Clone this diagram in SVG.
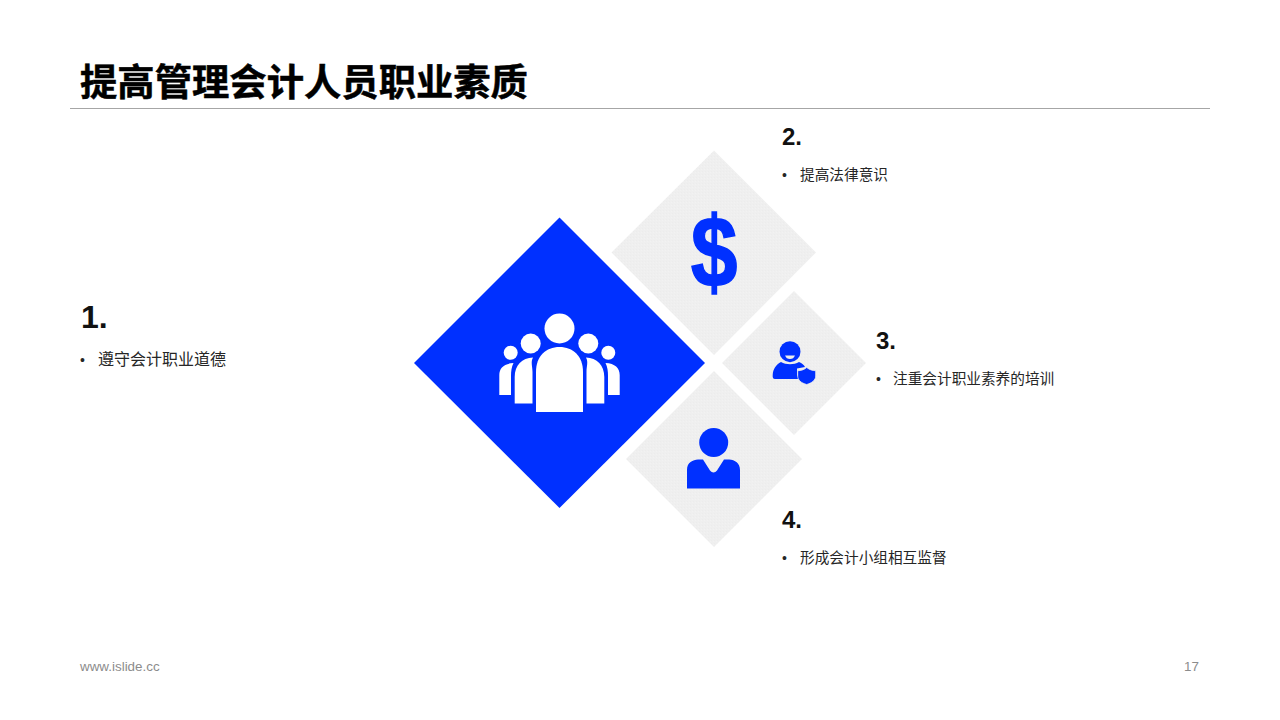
<svg xmlns="http://www.w3.org/2000/svg" width="1280" height="720" viewBox="0 0 1280 720">
<defs>
<pattern id="tex" width="3" height="3" patternUnits="userSpaceOnUse">
<rect width="3" height="3" fill="#efefef"/>
<rect width="1" height="1" fill="#ececec"/>
<rect x="2" y="1" width="1" height="1" fill="#f2f2f2"/>
</pattern>
</defs>
<style>
.title{font-family:"Noto Sans CJK SC","Liberation Sans",sans-serif;font-weight:700;font-size:37.33px;fill:#000;stroke:#000;stroke-width:.5px}
.num{font-family:"Liberation Sans",sans-serif;font-weight:700;font-size:24px;fill:#111}
.body{font-family:"Liberation Sans","Noto Sans CJK SC",sans-serif;font-size:14.670px;fill:#262626}
.foot{font-family:"Liberation Sans",sans-serif;font-size:13.400px;fill:#8c8c8c}
.gray{fill:url(#tex)}
.blue{fill:#0030ff}
.white{fill:#fff}
</style>
<rect width="1280" height="720" fill="#fff"/>
<g id="header">
<text class="title" x="80" y="96">提高管理会计人员职业素质</text>
<line x1="70" y1="108.500" x2="1210" y2="108.500" stroke="#a6a6a6" stroke-width="1"/>
</g>
<g id="node-1">
<path class="blue" d="M559.500 217.500L705 363L559.500 508L414 363Z"/>
<g class="white">
<circle cx="559.500" cy="328.500" r="15"/>
<path d="M536 412V372C536 356 546 347 559.500 347S583 356 583 372V412Z"/>
<circle cx="530.700" cy="343.500" r="10"/>
<circle cx="588.300" cy="343.500" r="10"/>
<path d="M514.700 403.500V377C514.700 365 522 358 533 357.500C530.500 362 532.500 366 532.500 372V403.500Z"/>
<path d="M604.300 403.500V377C604.300 365 597 358 586 357.500C588.500 362 586.500 366 586.500 372V403.500Z"/>
<circle cx="510.700" cy="352.700" r="7"/>
<circle cx="608.300" cy="352.700" r="7"/>
<path d="M499.300 395V375C499.300 368 504 363.500 513.500 363C511.500 367 511 371 511 376V395Z"/>
<path d="M619.700 395V375C619.700 368 615 363.500 605.500 363C607.500 367 608 371 608 376V395Z"/>
</g>
<text class="num" x="81" y="328" style="font-size:32px">1.</text>
<text class="body" y="365" style="font-size:16px"><tspan x="80" font-size="14">•</tspan><tspan x="98">遵守会计职业道德</tspan></text>
</g>
<g id="node-2">
<path class="gray" d="M714 150.500L816 252.500L714 355L611.500 252.500Z"/>
<text transform="translate(714 286.500) scale(.84 1)" text-anchor="middle" font-family="Liberation Sans, sans-serif" font-weight="700" font-size="100" fill="#0030ff" stroke="#0030ff" stroke-width="1.500">$</text>
<text class="num" x="782" y="145">2.</text>
<text class="body" y="180"><tspan x="782" font-size="14">•</tspan><tspan x="800">提高法律意识</tspan></text>
</g>
<g id="node-3">
<path class="gray" d="M794 291L866 363L794 435L722 363Z"/>
<circle class="blue" cx="790" cy="351.700" r="10.500"/>
<path d="M785 355.500h10c-1 2.500-2.500 3.500-5 3.500s-4-1-5-3.500Z" fill="#eee"/>
<path class="blue" d="M781 362C786 365 794 365 799 362C802 363 804 365 805 367L797 368.500V375C798 377 799 378 800 379H775C773 379 772.500 377.500 772.700 375C773 369 776 364.500 781 362Z"/>
<path class="blue" d="M806.700 367.500C804 369.700 801 370.700 797.700 370.700V376C797.700 380 801 383 806.700 384.500C812 383 815.700 380 815.700 376V370.700C812.500 370.700 809.500 369.700 806.700 367.500Z" stroke="#eee" stroke-width=".8"/>
<text class="num" x="876" y="349">3.</text>
<text class="body" y="384"><tspan x="876" font-size="14">•</tspan><tspan x="893">注重会计职业素养的培训</tspan></text>
</g>
<g id="node-4">
<path class="gray" d="M714 371L802 459L714 547L626 459Z"/>
<circle class="blue" cx="713.700" cy="442.500" r="14.500"/>
<path class="blue" d="M687 488.500V470C687 462 693 460 698 459.500H703L710 470.500C712 473 715 473 717 470.500L724 459.500H729C735 460 740 463 740 470V488.500Z"/>
<text class="num" x="782" y="528">4.</text>
<text class="body" y="563"><tspan x="782" font-size="14">•</tspan><tspan x="800">形成会计小组相互监督</tspan></text>
</g>
<g id="footer">
<text class="foot" x="80" y="670.500">www.islide.cc</text>
<text class="foot" x="1199" y="670.500" text-anchor="end">17</text>
</g>
<g id="connectors"/>
</svg>
